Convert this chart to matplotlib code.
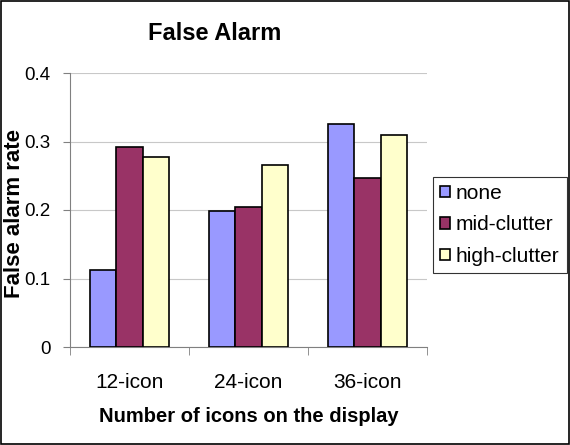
import matplotlib
matplotlib.use("Agg")
import matplotlib.pyplot as plt
import numpy as np
from matplotlib.patches import Rectangle

plt.rcParams['font.family'] = ['Liberation Sans', 'DejaVu Sans']

categories = ["12-icon", "24-icon", "36-icon"]
series_names = ["none", "mid-clutter", "high-clutter"]
none_vals = [0.112, 0.198, 0.326]
mid_vals = [0.292, 0.205, 0.246]
high_vals = [0.277, 0.265, 0.309]
colors = ["#9999FF", "#993366", "#FFFFCC"]

fig = plt.figure(figsize=(5.7, 4.45), dpi=100)
ax = fig.add_axes([70/570, 1-347/445, (427-70)/570, (347-73)/445])

x = np.arange(len(categories))
w = 0.224
for i, (vals, name, c) in enumerate(zip([none_vals, mid_vals, high_vals], series_names, colors)):
    ax.bar(x + (i-1)*w, vals, w, color=c, edgecolor="black", linewidth=1.2, label=name, zorder=3)

ax.set_xlim(-0.5, 2.5)
ax.set_ylim(0, 0.4)
ax.set_yticks([0, 0.1, 0.2, 0.3, 0.4])
ax.set_yticklabels(["0", "0.1", "0.2", "0.3", "0.4"], fontsize=13.5)
ax.set_xticks(x)
ax.set_xticklabels(categories, fontsize=15)
ax.set_xticks([-0.5, 0.5, 1.5, 2.5], minor=True)
ax.tick_params(axis='x', which='major', length=0, pad=19)
ax.tick_params(axis='x', which='minor', length=6, direction='out', color='#808080')
ax.tick_params(axis='y', length=5, direction='out', color='#808080', pad=9)
ax.grid(axis='y', color='#C8C8C8', linewidth=0.8, zorder=0)
for s in ['top', 'right']:
    ax.spines[s].set_visible(False)
for s in ['left', 'bottom']:
    ax.spines[s].set_color('#808080')

fig.text(215/570, 1-33/445, "False Alarm", fontsize=17, fontweight='bold', ha='center', va='center')
fig.text(15/570, 1-214/445, "False alarm rate", fontsize=16, fontweight='bold',
         rotation=90, ha='center', va='center')
fig.text(249/570, 1-416/445, "Number of icons on the display", fontsize=14.5, fontweight='bold', ha='center', va='center')

leg = ax.legend(loc='center left', bbox_to_anchor=(433/570, 1-225/445), bbox_transform=fig.transFigure,
                fontsize=15, frameon=True, fancybox=False, edgecolor='black', handlelength=0.45,
                handleheight=0.45, handletextpad=0.3, borderpad=0.35, labelspacing=0.6, borderaxespad=0)
leg.get_frame().set_linewidth(0.8)

fig.patches.append(Rectangle((0.002, 0.002), 0.996, 0.996, transform=fig.transFigure,
                             fill=False, edgecolor='black', linewidth=1.2))

fig.savefig("out.png", dpi=100)
